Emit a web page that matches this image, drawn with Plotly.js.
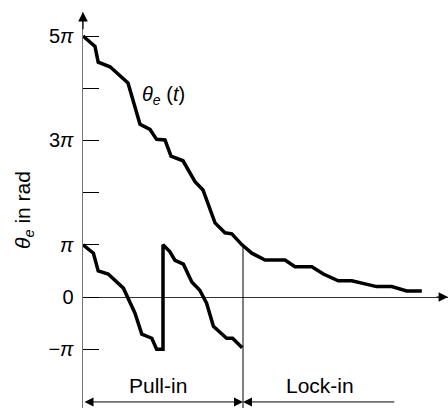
<!DOCTYPE html>
<html>
<head>
<meta charset="utf-8">
<script src="https://cdn.plot.ly/plotly-3.0.1.min.js"></script>
<style>html,body{margin:0;padding:0;background:#fff}#chart{width:448px;height:408px}</style>
</head>
<body>
<div id="chart"></div>
<script>
// time (arbitrary units), phase in units of pi
const upperT = [0, 0.30, 0.38, 0.675, 1.125, 1.425, 1.675, 1.84, 2.05, 2.20, 2.50, 2.80, 3.00, 3.30, 3.55, 3.72, 3.975, 4.22, 4.55, 5.05, 5.30, 5.72, 6.01, 6.38, 6.72, 7.34, 7.72, 8.09, 8.47];
const upperY = [5.0, 4.80, 4.50, 4.41, 4.10, 3.31, 3.21, 3.02, 3.01, 2.70, 2.61, 2.21, 2.05, 1.42, 1.23, 1.21, 1.0, 0.84, 0.71, 0.71, 0.58, 0.58, 0.44, 0.31, 0.31, 0.20, 0.20, 0.115, 0.115];
const lowerT = [0, 0.26, 0.38, 0.63, 1.01, 1.30, 1.47, 1.72, 1.84, 2.0, 2.0, 2.17, 2.30, 2.51, 2.72, 2.92, 3.09, 3.26, 3.59, 3.74, 3.98];
const lowerY = [1.0, 0.84, 0.50, 0.44, 0.17, -0.31, -0.71, -0.79, -1.0, -1.0, 1.0, 0.87, 0.70, 0.63, 0.29, 0.13, -0.12, -0.56, -0.79, -0.79, -0.97];
const tickVals = [-1, 0, 1, 2, 3, 4, 5];
const tickText = ['\u2212<i>\u03c0</i>', '0', '<i>\u03c0</i>', '', '3<i>\u03c0</i>', '', '5<i>\u03c0</i>'];
const boundaryT = 4;
const lockEndT = 7.82;
const curveLabel = '<i>\u03b8<sub>e</sub></i> (<i>t</i>)';
const yTitle = '<i>\u03b8<sub>e</sub></i> in rad';
const phaseNames = ['Pull-in', 'Lock-in'];

const yMin = -2.126, yMax = 5.46, xMax = 9.125;
const arrowY = -2.01, labelY = -1.69;

const traces = [
  {x: upperT, y: upperY, mode: 'lines', line: {color: '#000', width: 3.5}, hoverinfo: 'skip'},
  {x: lowerT, y: lowerY, mode: 'lines', line: {color: '#000', width: 3.5}, hoverinfo: 'skip'}
];

const layout = {
  width: 448, height: 408,
  margin: {l: 83, r: 0, t: 12, b: 0},
  paper_bgcolor: '#fff', plot_bgcolor: '#fff',
  showlegend: false,
  font: {family: 'Liberation Sans, Arial, sans-serif', color: '#000', size: 20},
  xaxis: {range: [0, xMax], showgrid: false, zeroline: false, showline: false, showticklabels: false, ticks: ''},
  yaxis: {
    range: [yMin, yMax], showgrid: false,
    zeroline: true, zerolinecolor: '#333', zerolinewidth: 1,
    showline: true, linecolor: '#777', linewidth: 1.5,
    tickvals: tickVals, ticktext: tickText,
    ticks: 'inside', ticklen: 16, tickcolor: '#000', tickwidth: 1,
    ticklabelstandoff: 4,
    tickfont: {size: 20},
    title: {text: yTitle, font: {size: 21}, standoff: 12}
  },
  shapes: [
    {type: 'line', xref: 'x', yref: 'y', x0: boundaryT, x1: boundaryT, y0: 1.0, y1: yMin, line: {color: '#000', width: 1}}
  ],
  annotations: [
    {x: 0, y: yMax, ax: 0, ay: 5.1, xref: 'x', yref: 'y', axref: 'x', ayref: 'y', text: '', showarrow: true, arrowhead: 2, arrowsize: 1.6, arrowwidth: 1.2, arrowcolor: '#000', standoff: 0},
    {x: 9.13, y: 0, ax: 8.8, ay: 0, xref: 'x', yref: 'y', axref: 'x', ayref: 'y', text: '', showarrow: true, arrowhead: 2, arrowsize: 1.6, arrowwidth: 1.2, arrowcolor: '#000', standoff: 0},
    {x: boundaryT, y: arrowY, ax: 0, ay: arrowY, xref: 'x', yref: 'y', axref: 'x', ayref: 'y', text: '', showarrow: true, arrowhead: 2, arrowside: 'end+start', arrowsize: 1.8, arrowwidth: 1, arrowcolor: '#000', standoff: 0, startstandoff: 0},
    {x: boundaryT, y: arrowY, ax: lockEndT, ay: arrowY, xref: 'x', yref: 'y', axref: 'x', ayref: 'y', text: '', showarrow: true, arrowhead: 2, arrowsize: 1.8, arrowwidth: 1, arrowcolor: '#000', standoff: 0},
    {x: 1.875, y: labelY, xref: 'x', yref: 'y', text: phaseNames[0], showarrow: false, font: {size: 21}},
    {x: 5.925, y: labelY, xref: 'x', yref: 'y', text: phaseNames[1], showarrow: false, font: {size: 21}},
    {x: 2.0, y: 3.87, xref: 'x', yref: 'y', text: curveLabel, showarrow: false, font: {size: 20}}
  ]
};

Plotly.newPlot('chart', traces, layout, {staticPlot: true, displayModeBar: false});
</script>
</body>
</html>
